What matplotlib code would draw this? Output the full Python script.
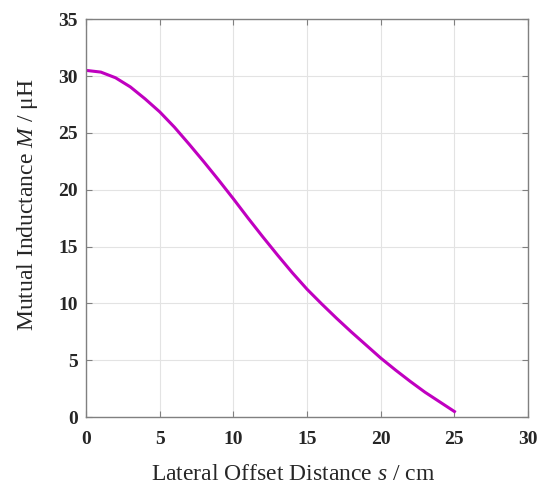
import matplotlib
matplotlib.use('agg')
import matplotlib.pyplot as plt

# lateral offset s (cm) and mutual inductance M (uH)
s_cm = [0, 1, 2, 3, 4, 5, 6, 7, 8, 9, 10, 11, 12, 13, 14, 15, 16, 17,
        18, 19, 20, 21, 22, 23, 24, 25]
m_uh = [30.5, 30.35, 29.85, 29.05, 28.0, 26.85, 25.5, 24.0, 22.45, 20.85,
        19.2, 17.5, 15.85, 14.25, 12.7, 11.25, 9.95, 8.7, 7.5, 6.35, 5.2,
        4.15, 3.15, 2.2, 1.35, 0.5]
x_ticks = [0, 5, 10, 15, 20, 25, 30]
y_ticks = [0, 5, 10, 15, 20, 25, 30, 35]

plt.rcParams['font.family'] = ['Liberation Serif', 'DejaVu Serif']
plt.rcParams['mathtext.fontset'] = 'custom'
plt.rcParams['mathtext.it'] = 'Liberation Serif:italic'
plt.rcParams['mathtext.rm'] = 'Liberation Serif'

fig = plt.figure(figsize=(5.38, 4.84), dpi=100)
ax = fig.add_axes([0.160, 0.138, 0.8216, 0.8223])

ax.plot(s_cm, m_uh, color='#c000c0', linewidth=2.2)

ax.set_xlim(0, 30)
ax.set_ylim(0, 35)
ax.set_xticks(x_ticks)
ax.set_yticks(y_ticks)
ax.grid(True, color='#e3e3e3', linewidth=0.8)
ax.set_axisbelow(True)
ax.tick_params(direction='in', top=True, right=True, length=4,
               color='#808080', labelsize=14)
ax.tick_params(axis='x', pad=10)
ax.tick_params(axis='y', pad=6)
for lbl in ax.get_xticklabels() + ax.get_yticklabels():
    lbl.set_fontweight('bold')
    lbl.set_color('#262626')
for sp in ax.spines.values():
    sp.set_color('#808080')
    sp.set_linewidth(1.0)

ax.set_xlabel('Lateral Offset Distance $s$ / cm', fontsize=17,
              color='#262626', va='baseline')
ax.set_ylabel('Mutual Inductance $M$ / μH', fontsize=17,
              color='#262626', va='baseline')
ax.xaxis.set_label_coords(0.469, -0.158)
ax.yaxis.set_label_coords(-0.120, 0.533)

fig.savefig('out.png', dpi=100)
